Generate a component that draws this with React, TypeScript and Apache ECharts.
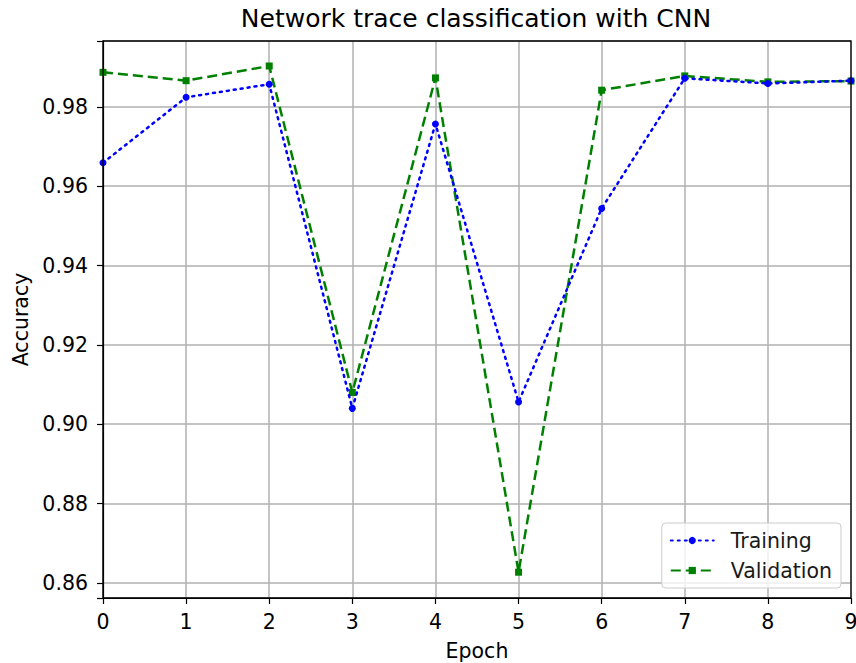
import React, { useEffect, useRef } from "react";
import * as echarts from "echarts";

const epochs = [0, 1, 2, 3, 4, 5, 6, 7, 8, 9];
const training = [0.9659, 0.9824, 0.9857, 0.904, 0.9757, 0.9056, 0.9544, 0.9872, 0.9859, 0.9866];
const validation = [0.9887, 0.9866, 0.9903, 0.908, 0.9873, 0.8627, 0.9842, 0.9878, 0.9863, 0.9865];

const FONT = "DejaVu Sans";

export default function App() {
  const ref = useRef<HTMLDivElement>(null);
  useEffect(() => {
    if (!ref.current) return;
    const chart = echarts.init(ref.current, null, { renderer: "svg" });
    chart.setOption({
      animation: false,
      backgroundColor: "#ffffff",
      textStyle: { fontFamily: FONT },
      title: {
        text: "Network trace classification with CNN",
        left: 476,
        textAlign: "center",
        top: 6,
        padding: 0,
        textStyle: { fontFamily: FONT, fontSize: 25, fontWeight: "normal", color: "#000" },
      },
      grid: {
        left: 103,
        right: 5,
        top: 41,
        bottom: 65,
        containLabel: false,
        outerBoundsMode: "none",
        show: false,
      },
      legend: {
        orient: "vertical",
        right: 15,
        bottom: 75,
        backgroundColor: "rgba(255,255,255,0.8)",
        borderColor: "#cccccc",
        borderWidth: 1,
        borderRadius: 4,
        padding: [7, 9, 7, 8],
        itemGap: 9,
        itemWidth: 43,
        itemHeight: 9,
        textStyle: { fontFamily: FONT, fontSize: 20.5, color: "#1a1a1a", padding: [0, 0, 0, 12] },
        data: ["Training", "Validation"],
      },
      xAxis: {
        type: "value",
        min: 0,
        max: 9,
        interval: 1,
        name: "Epoch",
        nameLocation: "middle",
        nameGap: 42,
        nameTextStyle: { fontFamily: FONT, fontSize: 20.5, color: "#000" },
        axisLine: { show: true, onZero: false, lineStyle: { color: "#000", width: 1.2 } },
        axisTick: { show: true, inside: false, length: 6, lineStyle: { color: "#000", width: 1.2 } },
        axisLabel: { fontFamily: FONT, fontSize: 20.5, color: "#000", margin: 13 },
        splitLine: { show: true, lineStyle: { color: "#b0b0b0", width: 1.5 } },
      },
      yAxis: {
        type: "value",
        min: 0.8562,
        max: 0.9966,
        splitNumber: 7,
        name: "Accuracy",
        nameLocation: "middle",
        nameGap: 72,
        nameTextStyle: { fontFamily: FONT, fontSize: 20.5, color: "#000" },
        axisLine: { show: true, lineStyle: { color: "#000", width: 1.2 } },
        axisTick: { show: true, inside: false, length: 6, lineStyle: { color: "#000", width: 1.2 } },
        axisLabel: {
          fontFamily: FONT,
          fontSize: 20.5,
          color: "#000",
          margin: 15,
          formatter: (v: number) =>
            Math.abs(v * 50 - Math.round(v * 50)) < 1e-6 ? v.toFixed(2) : "",
        },
        splitLine: { show: true, lineStyle: { color: "#b0b0b0", width: 1.5 } },
      },
      series: [
        {
          name: "Training",
          type: "line",
          data: epochs.map((e, i) => [e, training[i]]),
          symbol: "circle",
          symbolSize: 7,
          showAllSymbol: true,
          itemStyle: { color: "#0000ff" },
          lineStyle: { color: "#0000ff", width: 2.5, type: [2, 5], cap: "round" },
          z: 3,
        },
        {
          name: "Validation",
          type: "line",
          data: epochs.map((e, i) => [e, validation[i]]),
          symbol: "rect",
          symbolSize: 7,
          showAllSymbol: true,
          itemStyle: { color: "#008000" },
          lineStyle: { color: "#008000", width: 2.5, type: [10, 5] },
          z: 2,
        },
      ],
      graphic: [
        {
          type: "rect",
          shape: { x: 103, y: 41, width: 748, height: 557 },
          style: { fill: "none", stroke: "#000", lineWidth: 1.3 },
          z: 10,
          silent: true,
        },
      ],
    });
    return () => chart.dispose();
  }, []);
  return (
    <div
      ref={ref}
      style={{ position: "absolute", left: 0, top: 0, width: 856, height: 663 }}
    />
  );
}
